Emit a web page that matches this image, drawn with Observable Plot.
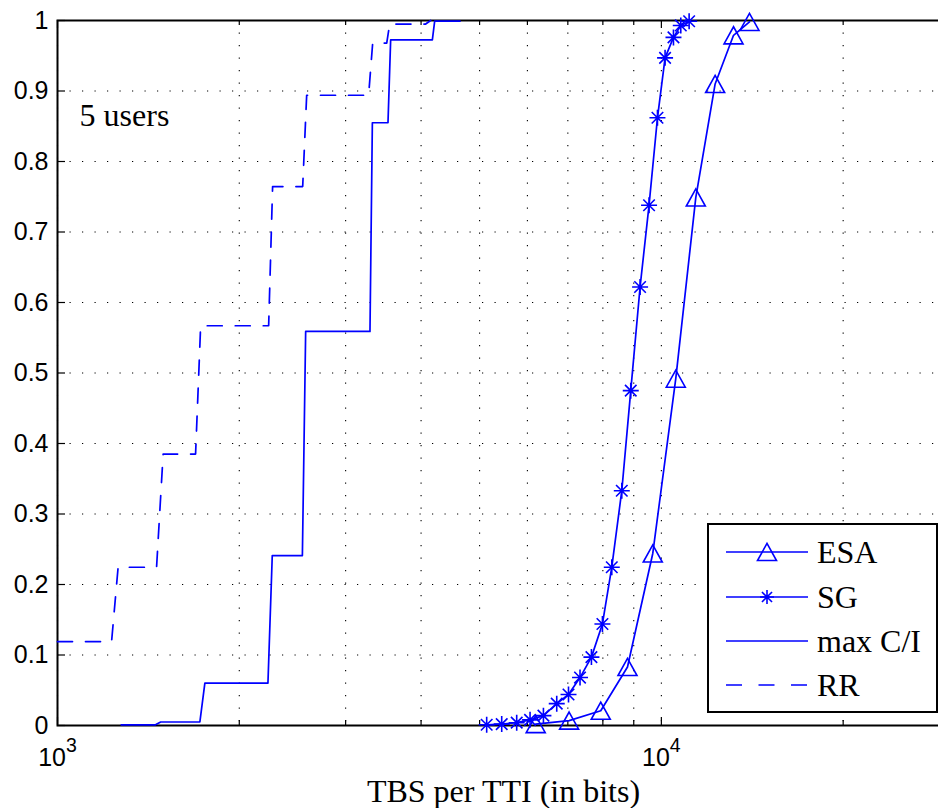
<!DOCTYPE html>
<html><head><meta charset="utf-8">
<script src="https://cdn.jsdelivr.net/npm/d3@7"></script>
<script src="https://cdn.jsdelivr.net/npm/@observablehq/plot@0.6"></script>
<style>
html,body{margin:0;padding:0;background:#fff;overflow:hidden;}
#chart{position:relative;width:938px;height:808px;overflow:hidden;}
</style></head><body><div id="chart"></div>
<script>
// ---- data ----
const xGridTicks = [1000,2000,3000,4000,5000,6000,7000,8000,9000,10000,20000,30000];
const xMajorTicks = [1000,10000];
const xMinorTicks = [2000,3000,4000,5000,6000,7000,8000,9000,20000];
const yTicks = [0,0.1,0.2,0.3,0.4,0.5,0.6,0.7,0.8,0.9,1];

const esaX = [6193,7034,7936,8788,9677,10564,11403,12275,13167,13992];
const esaY = [0.002,0.007,0.021,0.083,0.244,0.492,0.749,0.910,0.979,0.998];

const sgX = [5137,5440,5760,6061,6378,6710,7018,7333,7659,7987,8277,8599,8898,9220,9541,9852,10142,10472,10768,11116];
const sgY = [0.001,0.002,0.004,0.008,0.014,0.031,0.044,0.068,0.097,0.144,0.2245,0.333,0.475,0.622,0.738,0.862,0.947,0.976,0.993,0.999];

const maxciX = [1275,1453,1482,1721,1754,2231,2268,2544,2576,3292,3322,3526,3562,4176,4213,4640];
const maxciY = [0.001,0.001,0.005,0.005,0.060,0.060,0.241,0.241,0.559,0.559,0.855,0.855,0.9725,0.9725,0.999,0.999];

const rrX = [1000,1229,1260,1459,1496,1693,1726,2237,2271,2547,2586,3275,3326,3509,3549,4071,4149];
const rrY = [0.119,0.119,0.2245,0.2245,0.385,0.385,0.567,0.567,0.7645,0.7645,0.894,0.894,0.968,0.968,0.995,0.995,1.0];

const seriesNames = ["ESA","SG","max C/I","RR"];
const annotText = "5 users";
const annotX = 1088, annotY = 0.85;
const xLabel = "TBS per TTI (in bits)";

// ---- layout ----
const W = 949, H = 808;
const mL = 57, mT = 20, mB = 83, mR = 0;
const plotW = W - mL - mR, plotH = H - mT - mB;
const BLUE = "#0000ff";
const SANS = "Liberation Sans, Arial, Helvetica, sans-serif";
const SERIF = "Liberation Serif, Times New Roman, serif";

const zip = (xs, ys) => xs.map((x, i) => ({x, y: ys[i]}));
const esa = zip(esaX, esaY), sg = zip(sgX, sgY), maxci = zip(maxciX, maxciY), rr = zip(rrX, rrY);

const asterisk = {draw(ctx, size) {
  const r = Math.sqrt(size / Math.PI), d = r * 0.72;
  ctx.moveTo(-r, 0); ctx.lineTo(r, 0);
  ctx.moveTo(0, -r); ctx.lineTo(0, r);
  ctx.moveTo(-d, -d); ctx.lineTo(d, d);
  ctx.moveTo(-d, d); ctx.lineTo(d, -d);
}};
const triangle = {draw(ctx, size) {
  const r = Math.sqrt(size / Math.PI);
  ctx.moveTo(0, -0.9 * r); ctx.lineTo(r, 0.9 * r); ctx.lineTo(-r, 0.9 * r); ctx.closePath();
}};

const svg = Plot.plot({
  width: W, height: H,
  marginLeft: mL, marginRight: mR, marginTop: mT, marginBottom: mB,
  x: {type: "log", domain: [1000, 30000], axis: null},
  y: {domain: [0, 1], axis: null},
  marks: [
    // dotted grid
    Plot.ruleX(xGridTicks, {x: d => d, stroke: "#000", strokeWidth: 1.1, strokeDasharray: "1.2,11.3"}),
    Plot.ruleY(yTicks, {y: d => d, stroke: "#000", strokeWidth: 1.1, strokeDasharray: "1.2,11.3"}),
    // inward ticks
    Plot.tickX(xMinorTicks, {x: d => d, insetTop: plotH - 5, stroke: "#000", strokeWidth: 1.2}),
    Plot.tickX(xMajorTicks, {x: d => d, insetTop: plotH - 8, stroke: "#000", strokeWidth: 1.2}),
    Plot.tickX(xMinorTicks, {x: d => d, insetBottom: plotH - 5, stroke: "#000", strokeWidth: 1.2}),
    Plot.tickX(xMajorTicks, {x: d => d, insetBottom: plotH - 8, stroke: "#000", strokeWidth: 1.2}),
    Plot.tickY(yTicks, {y: d => d, insetRight: plotW - 8, stroke: "#000", strokeWidth: 1.2}),
    Plot.tickY(yTicks, {y: d => d, insetLeft: plotW - 8, stroke: "#000", strokeWidth: 1.2}),
    // axes labels
    Plot.axisX({ticks: xMajorTicks, tickFormat: d => "10^" + Math.round(Math.log10(d)), tickSize: 0, tickPadding: 23,
      fontSize: 25, fontFamily: SANS, fill: "#000", label: null}),
    Plot.axisY({ticks: yTicks, tickFormat: d3.format("~g"), tickSize: 0, tickPadding: 9,
      fontSize: 25, fontFamily: SANS, fill: "#000", label: null}),
    // frame
    Plot.frame({stroke: "#000", strokeWidth: 2}),
    // series
    Plot.line(rr, {x: "x", y: "y", stroke: BLUE, strokeWidth: 1.7, strokeDasharray: "15,13"}),
    Plot.line(maxci, {x: "x", y: "y", stroke: BLUE, strokeWidth: 1.7}),
    Plot.line(sg, {x: "x", y: "y", stroke: BLUE, strokeWidth: 1.7}),
    Plot.line(esa, {x: "x", y: "y", stroke: BLUE, strokeWidth: 1.7}),
    Plot.dot(sg, {x: "x", y: "y", symbol: asterisk, r: 8, stroke: BLUE, fill: "none", strokeWidth: 1.6}),
    Plot.dot(esa, {x: "x", y: "y", symbol: triangle, r: 9.5, stroke: BLUE, fill: "none", strokeWidth: 1.6}),
    // annotation & x label
    Plot.text([annotText], {x: () => annotX, y: () => annotY, text: d => d, textAnchor: "start", lineAnchor: "bottom",
      fontSize: 32, fontFamily: SERIF, fill: "#000"}),
    Plot.text([xLabel], {frameAnchor: "bottom", text: d => d, dy: 76, lineAnchor: "bottom",
      fontSize: 32, fontFamily: SERIF, fill: "#000"})
  ]
});
svg.style.maxWidth = "none";
svg.style.background = "#fff";

// superscript exponents on x tick labels
svg.querySelectorAll('g[aria-label="x-axis tick label"] text').forEach(t => {
  const s = t.textContent;
  if (!s.includes("^")) return;
  const [base, exp] = s.split("^");
  while (t.firstChild) t.removeChild(t.firstChild);
  const ns = "http://www.w3.org/2000/svg";
  const a = document.createElementNS(ns, "tspan"); a.textContent = base; t.appendChild(a);
  const b = document.createElementNS(ns, "tspan"); b.textContent = exp;
  b.setAttribute("dy", "-14"); b.setAttribute("font-size", "19.5"); t.appendChild(b);
});

// legend box
const lg = d3.select(svg).append("g").attr("class", "legend").attr("text-anchor", "start");
const bx = 708, by = 524, bw = 229, bh = 188;
lg.append("rect").attr("x", bx).attr("y", by).attr("width", bw).attr("height", bh)
  .attr("fill", "#fff").attr("stroke", "#000").attr("stroke-width", 2);
const rowY = [552, 597, 641, 685];
const styles = [
  {dash: null, sym: triangle, r: 9.5},
  {dash: null, sym: asterisk, r: 7},
  {dash: null, sym: null},
  {dash: "16,16.5", sym: null}
];
seriesNames.forEach((name, i) => {
  const y = rowY[i], st = styles[i];
  lg.append("line").attr("x1", 726).attr("x2", 808).attr("y1", y).attr("y2", y)
    .attr("stroke", BLUE).attr("stroke-width", 1.7).attr("stroke-dasharray", st.dash);
  if (st.sym) {
    lg.append("path").attr("transform", `translate(767,${y})`)
      .attr("d", d3.symbol(st.sym, st.r * st.r * Math.PI)())
      .attr("fill", "none").attr("stroke", BLUE).attr("stroke-width", 1.6);
  }
  lg.append("text").attr("x", 817).attr("y", y).attr("dy", "0.34em").attr("text-anchor", "start")
    .attr("font-family", SERIF).attr("font-size", 32).attr("fill", "#000").text(name);
});

document.getElementById("chart").appendChild(svg);
</script></body></html>
